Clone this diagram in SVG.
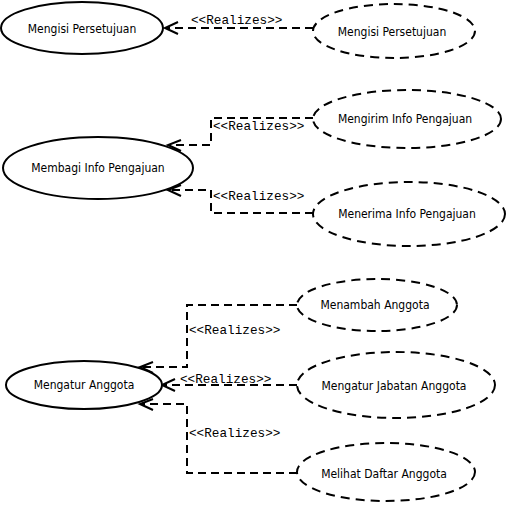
<svg xmlns="http://www.w3.org/2000/svg" width="507" height="505" viewBox="0 0 507 505">
<style>
.uc{fill:#fff;stroke:#000;stroke-width:2}
.uc.d{stroke-dasharray:9 6}
.t{font-family:"DejaVu Sans Condensed","DejaVu Sans",sans-serif;font-stretch:condensed;font-size:12px;text-anchor:middle;dominant-baseline:central;fill:#000}
.c{fill:none;stroke:#000;stroke-width:2;stroke-dasharray:8 5}
.lb{font-family:"Liberation Mono",monospace;font-size:12.7px;fill:#000}
.ah{fill:none;stroke:#000;stroke-width:2}
</style>
<g id="connectors">
<path class="c" d="M313,28 H167"/>
<path class="ah" d="M178,22 L165,28 L178,34"/>
<text class="lb" x="191" y="24">&lt;&lt;Realizes&gt;&gt;</text>

<path class="c" d="M313,118 H211 V145 H170"/>
<path class="ah" d="M181,140 L168,145 L181,151"/>
<text class="lb" x="213" y="130">&lt;&lt;Realizes&gt;&gt;</text>

<path class="c" d="M313,213 H211 V190 H170"/>
<path class="ah" d="M181,185 L168,190 L181,196"/>
<text class="lb" x="213" y="200">&lt;&lt;Realizes&gt;&gt;</text>

<path class="c" d="M297,305 H187 V367 H142"/>
<path class="ah" d="M153,362 L140,367 L153,373"/>
<text class="lb" x="189" y="334">&lt;&lt;Realizes&gt;&gt;</text>

<path class="c" d="M297,385 H164"/>
<path class="ah" d="M175,379 L162,385 L175,391"/>
<text class="lb" x="180" y="383">&lt;&lt;Realizes&gt;&gt;</text>

<path class="c" d="M297,473 H187 V404 H142"/>
<path class="ah" d="M153,399 L140,404 L153,410"/>
<text class="lb" x="189" y="437">&lt;&lt;Realizes&gt;&gt;</text>
</g>
<g id="uc1"><ellipse class="uc" cx="82" cy="28" rx="81" ry="26"/><text class="t" x="82" y="29">Mengisi Persetujuan</text></g>
<g id="uc1r"><ellipse class="uc d" cx="394" cy="31" rx="81" ry="27"/><text class="t" x="392" y="32">Mengisi Persetujuan</text></g>
<g id="uc2"><ellipse class="uc" cx="98" cy="168" rx="95" ry="31"/><text class="t" x="98" y="168">Membagi Info Pengajuan</text></g>
<g id="uc2a"><ellipse class="uc d" cx="407" cy="119" rx="94" ry="29"/><text class="t" x="405" y="119">Mengirim Info Pengajuan</text></g>
<g id="uc2b"><ellipse class="uc d" cx="409" cy="214" rx="96" ry="32"/><text class="t" x="407" y="214">Menerima Info Pengajuan</text></g>
<g id="uc3"><ellipse class="uc" cx="84" cy="385" rx="78" ry="24"/><text class="t" x="84" y="385">Mengatur Anggota</text></g>
<g id="uc3a"><ellipse class="uc d" cx="377" cy="305" rx="80" ry="26"/><text class="t" x="375" y="305">Menambah Anggota</text></g>
<g id="uc3b"><ellipse class="uc d" cx="396" cy="385" rx="99" ry="33"/><text class="t" x="394" y="386">Mengatur Jabatan Anggota</text></g>
<g id="uc3c"><ellipse class="uc d" cx="386" cy="472" rx="89" ry="29"/><text class="t" x="384" y="474">Melihat Daftar Anggota</text></g>
</svg>
